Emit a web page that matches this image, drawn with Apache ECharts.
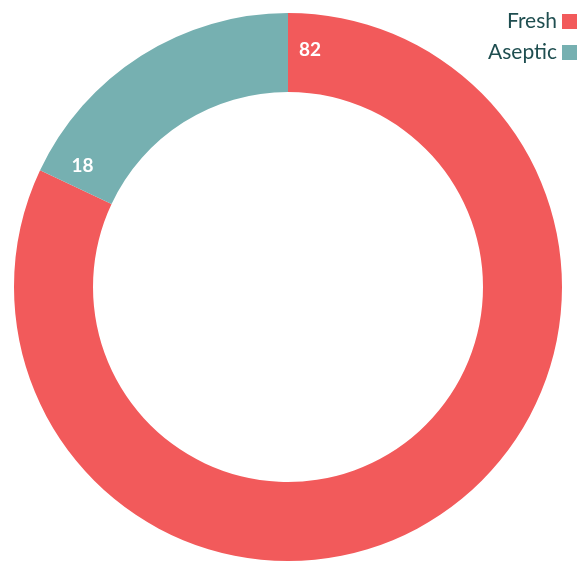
<!DOCTYPE html>
<html>
<head>
<meta charset="utf-8">
<script src="https://cdn.jsdelivr.net/npm/echarts@6/dist/echarts.min.js"></script>
<style>
  html, body { margin: 0; padding: 0; background: #fff; }
  #chart { width: 588px; height: 561px; }
</style>
</head>
<body>
<div id="chart"></div>
<script>
// data
const categories = ['Fresh', 'Aseptic'];
const values = [82, 18];
const colors = ['#f25a5b', '#76b0b1'];

const cx = 288, cy = 287;
const innerR = 195, outerR = 274;

const total = values.reduce((a, b) => a + b, 0);

// labels sit just past the start of each slice, on the middle of the ring
function labelPos(idx) {
  let before = 0;
  for (let i = 0; i < idx; i++) before += values[i];
  let deg = before / total * 360 + 5.3; // clockwise from top
  let rad = deg * Math.PI / 180;
  let r = (innerR + outerR) / 2 + 4;
  return { x: cx + r * Math.sin(rad), y: cy - r * Math.cos(rad) };
}

const chart = echarts.init(document.getElementById('chart'));
const option = {
  animation: false,
  legend: {
    orient: 'vertical',
    right: 6,
    top: 6,
    align: 'right',
    itemWidth: 15,
    itemHeight: 15,
    itemGap: 10,
    icon: 'rect',
    textStyle: { fontSize: 21, color: '#1f4e50', fontFamily: 'Lato' },
    data: categories
  },
  series: [{
    type: 'pie',
    center: [cx, cy],
    radius: [innerR, outerR],
    startAngle: 90,
    clockwise: true,
    silent: true,
    label: {
      show: true,
      position: 'inside',
      color: '#fff',
      fontSize: 19,
      fontWeight: 'bold',
      fontFamily: 'Lato',
      formatter: '{c}'
    },
    labelLine: { show: false },
    labelLayout: function (params) {
      const p = labelPos(params.dataIndex);
      return { x: p.x, y: p.y, align: 'center', verticalAlign: 'middle' };
    },
    data: categories.map((name, i) => ({
      name: name,
      value: values[i],
      itemStyle: { color: colors[i] }
    }))
  }]
};
chart.setOption(option);
</script>
</body>
</html>
